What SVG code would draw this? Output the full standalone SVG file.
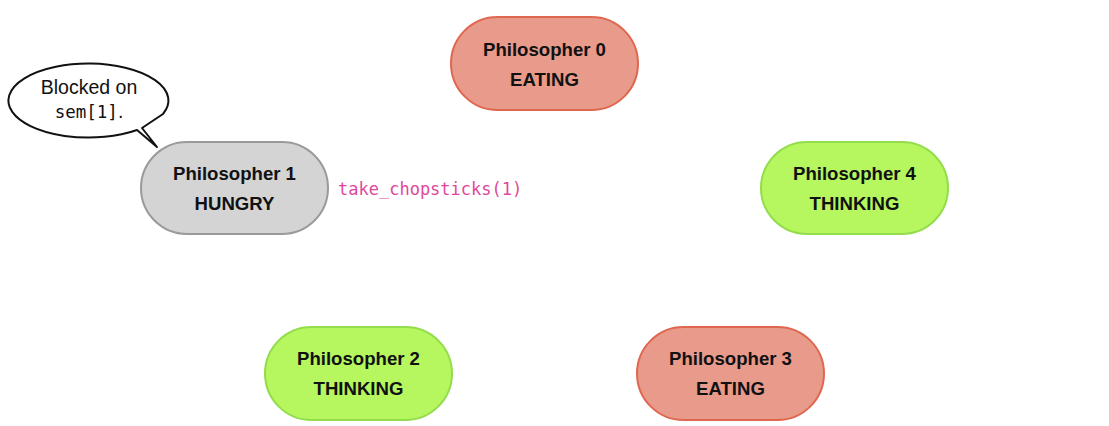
<svg xmlns="http://www.w3.org/2000/svg" width="1109" height="426" viewBox="0 0 1109 426">
<style>
.node rect{stroke-width:2}
.eating rect{fill:#E89A8B;stroke:#E0674F}
.hungry rect{fill:#D4D4D4;stroke:#9A9A9A}
.thinking rect{fill:#B6F65F;stroke:#93DC4C}
.lbl{font-family:"Liberation Sans",Arial,sans-serif;font-size:18.6px;font-weight:bold;fill:#111;text-anchor:middle}
.bub{font-family:"Liberation Sans",Arial,sans-serif;font-size:19.5px;fill:#111;text-anchor:middle}
.mono{font-family:"DejaVu Sans Mono","Liberation Mono",monospace}
.call{font-family:"DejaVu Sans Mono","Liberation Mono",monospace;font-size:17px;fill:#E0489D}
</style>
<rect width="1109" height="426" fill="#fff"/>
<g id="p0" class="node eating">
<rect x="451" y="17" width="187" height="93" rx="46.5"/>
<text class="lbl" x="544.5" y="56">Philosopher 0</text>
<text class="lbl" x="544.5" y="86">EATING</text>
</g>
<g id="p1" class="node hungry">
<rect x="141" y="142" width="187" height="92" rx="46"/>
<text class="lbl" x="234.5" y="180">Philosopher 1</text>
<text class="lbl" x="234.5" y="210">HUNGRY</text>
</g>
<g id="p4" class="node thinking">
<rect x="761" y="142" width="187" height="92" rx="46"/>
<text class="lbl" x="854.5" y="180">Philosopher 4</text>
<text class="lbl" x="854.5" y="210">THINKING</text>
</g>
<g id="p2" class="node thinking">
<rect x="265" y="327" width="187" height="93" rx="46.5"/>
<text class="lbl" x="358.5" y="365">Philosopher 2</text>
<text class="lbl" x="358.5" y="395">THINKING</text>
</g>
<g id="p3" class="node eating">
<rect x="637" y="327" width="187" height="93" rx="46.5"/>
<text class="lbl" x="730.5" y="365">Philosopher 3</text>
<text class="lbl" x="730.5" y="395">EATING</text>
</g>
<g id="bubble">
<path d="M163,114 L142,128 L157,147 L137,130 A80,37 0 1 1 163,114 Z" fill="#fff" stroke="#111" stroke-width="2" stroke-linejoin="round"/>
<text class="bub" x="89" y="94">Blocked on</text>
<text class="bub" x="89" y="118"><tspan class="mono" font-size="17.5px">sem[1]</tspan>.</text>
</g>
<g id="connectors">
<text class="call" x="338" y="195">take_chopsticks(1)</text>
</g>
</svg>
